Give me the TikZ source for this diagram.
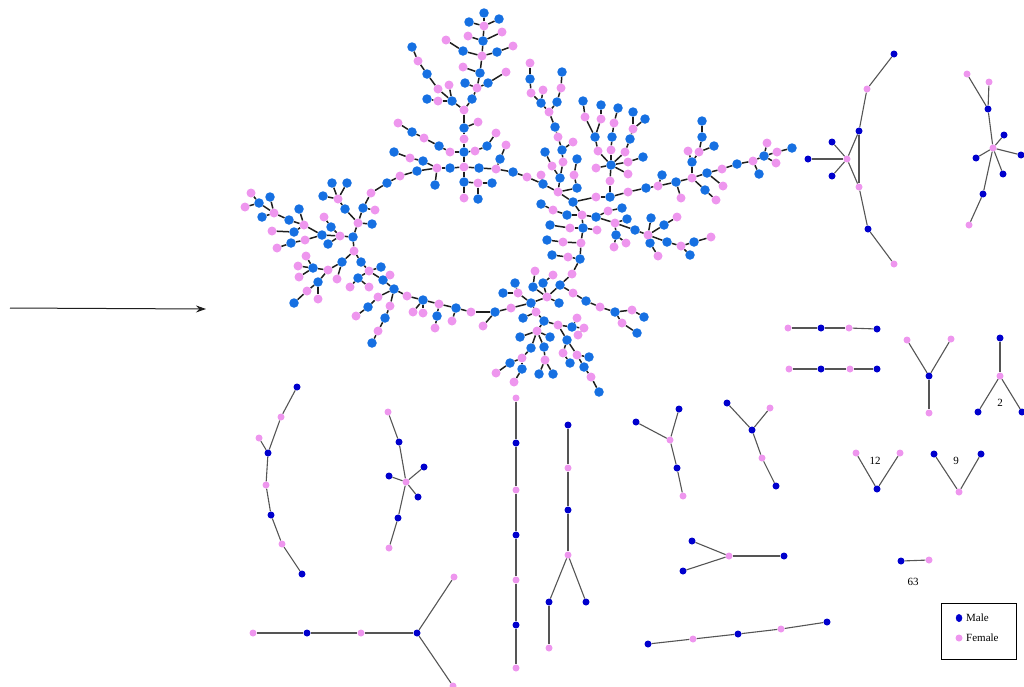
\documentclass[tikz,border=0pt]{standalone}
\usepackage{fontspec}
\setmainfont{Liberation Serif}
\usetikzlibrary{arrows.meta,shapes.geometric}
\pgfdeclarelayer{bg}
\pgfsetlayers{bg,main}
\definecolor{mainblue}{RGB}{22,112,226}
\definecolor{mainpink}{RGB}{238,150,238}
\definecolor{darkblue}{RGB}{0,0,205}
\definecolor{edgedark}{RGB}{30,30,30}
\definecolor{edgegray}{RGB}{85,85,85}
\tikzset{
  mb/.style={circle, fill=mainblue, inner sep=0pt, minimum size=9.5pt},
  mp/.style={circle, fill=mainpink, inner sep=0pt, minimum size=9pt},
  sb/.style={circle, fill=darkblue, inner sep=0pt, minimum size=7pt},
  sp/.style={circle, fill=mainpink, inner sep=0pt, minimum size=7pt},
  me/.style={draw=edgedark, line width=1.5pt},
  se/.style={draw=edgegray, line width=1.1pt},
  lbl/.style={font=\fontsize{11}{12}\selectfont, inner sep=0pt},
  legbox/.style={draw=black, line width=0.8pt, minimum width=75pt, minimum height=56pt, inner sep=0pt}
}
\begin{document}
\begin{tikzpicture}[x=1pt,y=-1pt]
\useasboundingbox (0,0) rectangle (1024,686);
% ---------------- main component: blue nodes
\foreach \nm/\x/\y in {t1/484/13, t2/469/22, t3/499/19, t7/483/41, t9/463/51, t11/497/52, t14/480/73, t16/465/83, t18/488/83, t19/472/99, t21/412/47, t23/427/74, t26/452/101, t27/427/99,
c1/464/128, c4/464/152, c6/439/146, c8/412/132, c11/487/146, c14/450/168, c16/417/171, c18/423/161, c20/394/152, c21/435/185, c22/479/168, c24/500/159, c26/513/172, c28/464/182, c31/478/199, c32/492/183,
l1/387/183, l3/363/208, l6/372/224, l7/353/237, l9/331/227, l11/328/244, l12/322/235, l14/291/243, l17/299/209, l18/294/232, l20/289/220, l22/259/203, l23/270/197, l24/262/217, l27/332/183, l28/347/183, l30/323/196, l31/345/209,
d2/342/262, d4/313/268, d8/318/282, d10/294/303, d13/361/262, d15/381/267, d17/383/280, d18/394/289, d19/358/278, d23/368/307, d26/385/318, d28/372/343, d30/423/300, d32/456/308, d34/495/312, d38/437/316,
e1/531/303, e3/503/293, e4/515/283, e6/533/287, e7/543/283, e10/560/285, e11/559/303, e13/580/259, e15/586/301, e17/615/312, e19/644/317, e21/637/333, e23/523/318, e24/544/321, e26/572/327, e31/520/337, e32/550/337, e33/531/348, e35/510/363, e37/522/369, e39/544/347, e41/539/374, e42/553/374, e43/567/340, e45/570/363, e47/589/357, e48/584/367, e50/599/392, e51/552/255,
m2/530/79, m5/541/103, m6/562/72, m8/557/102, m10/555/127, m13/562/150, m14/545/152, m17/577/159, m19/560/178, m21/543/184, m22/577/188, m24/573/202, m26/583/228, m29/550/225, m31/547/240, m35/541/204, m37/567/215,
s0/611/165, s3/595/137, s5/583/101, s7/612/137, s9/618/108, s11/601/105, s13/630/139, s15/633/112, s16/645/119, s18/643/157, s21/610/197, s24/646/188, s26/662/175, s27/676/182,
r1/596/217, r3/622/208, r5/627/219, r6/616/235, r9/635/230, r11/651/218, r12/664/225, r14/650/243, r16/667/242, r18/694/242, r20/690/255,
f1/692/162, f4/714/146, f5/702/137, f6/702/121, f7/705/190, f9/707/173, f11/737/164, f13/764/156, f15/792/148, f16/759/174}
  \node[mb] (\nm) at (\x,\y) {};
% ---------------- main component: pink nodes
\foreach \nm/\x/\y in {t4/484/26, t5/468/36, t6/502/32, t8/446/40, t10/482/56, t12/513/46, t13/463/67, t15/506/72, t17/477/88, t20/464/110, t22/418/61, t24/438/89, t25/449/85, t28/438/101,
c2/478/122, c3/464/139, c5/450/152, c7/424/138, c9/398/123, c10/475/151, c12/496/133, c13/464/167, c15/437/168, c17/400/176, c19/410/158, c23/496/169, c25/506/145, c27/527/177, c29/464/198, c30/478/183,
l2/371/193, l4/375/210, l5/358/223, l8/340/236, l10/324/217, l13/305/240, l15/277/248, l16/304/225, l19/272/231, l21/274/213, l25/251/193, l26/245/207, l29/338/199,
d1/354/251, d3/328/270, d5/306/256, d6/298/266, d7/299/277, d9/307/291, d11/318/299, d12/337/279, d14/369/271, d16/390/275, d20/369/287, d21/350/287, d22/378/297, d24/356/316, d25/390/306, d27/378/331, d29/407/296, d31/439/304, d33/471/312, d35/511/308, d36/413/312, d37/423/313, d39/435/328, d40/452/321, d41/483/326,
e2/518/293, e5/547/297, e8/535/271, e9/553/275, e12/572/274, e14/573/293, e16/600/307, e18/632/310, e20/622/323, e22/536/312, e25/558/325, e27/577/318, e28/584/328, e29/578/335, e30/537/331, e34/522/358, e36/496/373, e38/514/382, e40/545/360, e44/563/353, e46/577/355, e49/591/377, e52/568/257,
m1/530/63, m3/531/93, m4/543/90, m7/561/88, m9/549/112, m11/558/137, m12/573/142, m15/552/166, m16/563/162, m18/574/175, m20/541/175, m23/558/192, m25/582/215, m27/581/243, m30/570/228, m32/563/242, m34/597/230, m36/553/210,
s1/596/168, s2/598/151, s4/585/117, s6/611/150, s8/614/123, s10/601/119, s12/625/152, s14/633/129, s17/628/162, s19/628/174, s20/610/181, s22/596/197, s23/628/192, s25/658/186, s28/681/198, s29/692/178,
r2/608/211, r4/615/223, r7/614/247, r8/626/243, r10/648/235, r13/677/217, r15/658/256, r17/681/246, r19/711/237,
f2/688/151, f3/699/152, f8/716/200, f10/722/169, f12/753/161, f14/777/152, f17/767/143, f18/776/163, f19/723/186}
  \node[mp] (\nm) at (\x,\y) {};
% ---------------- small components
\foreach \nm/\x/\y in {a1/894/54, a3/859/131, a6/868/229, a8/808/159, a9/832/142, a10/832/176,
b3/988/109, b5/1004/135, b6/976/158, b7/1021/155, b8/1003/174, b9/983/194,
g2/821/328, g4/877/329, h2/821/369, h4/877/369, y3/929/376,
w1/1000/338, w3/978/412, w4/1022/412, v3/877/489, u1/934/454, u2/981/454, p1/901/561,
k1/297/387, k4/268/453, k6/271/515, k8/302/574,
q2/399/442, q4/424/467, q5/389/476, q6/418/497, q7/398/518,
z2/307/633, z4/417/633,
vl2/516/443, vl4/516/535, vl6/516/625,
vt1/568/425, vt3/568/510, vt5/549/602, vt7/586/602,
o1/636/422, o2/679/409, o4/677/468,
x1/727/403, x3/752/430, x5/776/486,
j1/692/541, j3/784/556, j4/683/571,
n1/648/644, n3/738/634, n5/827/622}
  \node[sb] (\nm) at (\x,\y) {};
\foreach \nm/\x/\y in {a2/867/89, a4/847/159, a5/859/187, a7/894/264,
b1/967/74, b2/989/82, b4/993/148, b10/969/225,
g1/788/328, g3/849/328, h1/789/369, h3/850/369,
y1/907/340, y2/951/339, y4/929/413,
w2/1000/376, v1/856/453, v2/900/453, u3/959/492, p2/929/560,
k2/281/417, k3/259/438, k5/266/485, k7/282/544,
q1/388/412, q3/406/482, q8/389/548,
z1/253/633, z3/361/633, z5/454/577, z6/453/686,
vl1/516/398, vl3/516/490, vl5/516/580, vl7/516/668,
vt2/568/468, vt4/568/555, vt6/549/648,
o3/670/440, o5/683/496,
x2/770/408, x4/762/458,
j2/729/556,
n2/693/639, n4/781/629}
  \node[sp] (\nm) at (\x,\y) {};
% ---------------- labels and legend
\node[lbl] (lab2) at (1000,403) {2};
\node[lbl] (lab12) at (875,461) {12};
\node[lbl] (lab9) at (956,461) {9};
\node[lbl] (lab63) at (913,582) {63};
\node[legbox] (legend) at (978.5,631) {};
\node[ellipse, fill=darkblue, inner sep=0pt, minimum width=6.5pt, minimum height=8pt] (legm) at (959,618) {};
\node[lbl, anchor=west] (legmt) at (966,617.5) {Male};
\node[sp] (legf) at (959,638) {};
\node[lbl, anchor=west] (legft) at (966,638) {Female};
% ---------------- arrow
\coordinate (arrS) at (10,308);
\coordinate (arrE) at (206,309);
\draw[-{Stealth[length=10pt,width=7pt]}, line width=1pt, draw=edgedark] (arrS) -- (arrE);
% ---------------- edges
\begin{pgfonlayer}{bg}
\foreach \a/\b in {t4/t1, t4/t2, t4/t3, t4/t7, t7/t5, t7/t6, t7/t10, t10/t9, t9/t8, t10/t11, t11/t12, t10/t14, t14/t13, t14/t17, t17/t16, t17/t18, t18/t15, t17/t19, t19/t20, t21/t22, t22/t23, t23/t24, t24/t26, t25/t26, t27/t28, t28/t26, t26/t20,
t20/c1, c1/c2, c1/c3, c3/c4, c4/c5, c5/c6, c6/c7, c7/c8, c8/c9, c4/c10, c10/c11, c11/c12, c4/c13, c13/c14, c14/c15, c15/c16, c16/c17, c15/c18, c18/c19, c19/c20, c15/c21, c13/c22, c22/c23, c23/c24, c24/c25, c23/c26, c26/c27, c13/c28, c28/c29, c28/c30, c30/c31, c30/c32,
c17/l1, l1/l2, l2/l3, l3/l4, l3/l5, l5/l6, l5/l7, l7/l8, l8/l9, l9/l10, l8/l11, l8/l12, l12/l13, l13/l14, l14/l15, l12/l16, l16/l17, l16/l18, l18/l19, l16/l20, l20/l21, l21/l22, l21/l23, l21/l24, l22/l25, l22/l26, l29/l27, l29/l28, l29/l30, l29/l31, l31/l5,
l7/d1, d1/d2, d2/d3, d3/d4, d4/d5, d4/d6, d4/d7, d3/d8, d8/d9, d9/d10, d8/d11, d2/d12, d1/d13, d13/d14, d14/d15, d14/d17, d17/d16, d17/d18, d14/d19, d19/d20, d19/d21, d18/d22, d22/d23, d23/d24, d18/d25, d25/d26, d26/d27, d27/d28, d18/d29, d29/d30, d30/d31, d31/d32, d32/d33, d33/d34, d34/d35, d30/d36, d30/d37, d31/d38, d38/d39, d32/d40, d34/d41,
d35/e1, e1/e2, e2/e3, e2/e4, e1/e5, e5/e6, e5/e7, e6/e8, e7/e9, e5/e10, e5/e11, e10/e12, e12/e13, e10/e14, e14/e15, e15/e16, e16/e17, e17/e18, e18/e19, e17/e20, e20/e21, e1/e22, e22/e23, e22/e24, e24/e25, e25/e26, e26/e27, e26/e28, e28/e29, e24/e30, e30/e31, e30/e32, e30/e33, e33/e34, e34/e35, e35/e36, e34/e37, e37/e38, e30/e39, e39/e40, e40/e41, e40/e42, e25/e43, e43/e44, e44/e45, e43/e46, e46/e47, e46/e48, e48/e49, e49/e50, e51/e52, e52/e13,
m1/m2, m2/m3, m3/m5, m4/m5, m5/m9, m6/m7, m7/m8, m8/m9, m9/m10, m10/m11, m11/m13, m12/m13, m14/m15, m15/m19, m13/m16, m16/m19, m17/m18, m18/m22, m22/m23, m19/m23, m20/m21, c27/m21, m21/m23, m23/m24, m24/m25, m25/m26, m26/m27, m27/e13, m29/m30, m30/m26, m31/m32, m32/m27, m35/m36, m36/m37, m37/m25, m26/m34,
s0/s1, s0/s2, s2/s3, s3/s4, s4/s5, s3/s10, s10/s11, s0/s6, s6/s7, s7/s8, s8/s9, s0/s12, s12/s13, s13/s14, s14/s15, s14/s16, s0/s17, s17/s18, s0/s19, s0/s20, s20/s21, s21/s22, s22/m24, s21/s23, s23/s24, s24/s25, s25/s26, s25/s27, s27/s28, s27/s29,
m25/r1, r1/r2, r2/r3, r1/r4, r4/r5, r4/r6, r6/r7, r6/r8, r4/r9, r9/r10, r10/r11, r10/r12, r12/r13, r10/r14, r14/r15, r10/r16, r16/r17, r17/r18, r18/r19, r17/r20,
s29/f1, f1/f2, f1/f3, f3/f4, f3/f5, f5/f6, s29/f7, f7/f8, s29/f9, f9/f10, f10/f11, f11/f12, f12/f13, f13/f14, f14/f15, f12/f16, f13/f17, f13/f18, f9/f19}
  \draw[me] (\a) -- (\b);
\foreach \a/\b in {a1/a2, a2/a3, a3/a5, a5/a6, a6/a7, a4/a3, a4/a5, a4/a8, a4/a9, a4/a10,
b1/b3, b2/b3, b3/b4, b4/b5, b4/b6, b4/b7, b4/b8, b4/b9, b9/b10,
g1/g2, g2/g3, g3/g4, h1/h2, h2/h3, h3/h4,
y1/y3, y2/y3, y3/y4, w1/w2, w2/w3, w2/w4, v1/v3, v2/v3, u1/u3, u2/u3, p1/p2,
k1/k2, k2/k4, k3/k4, k4/k5, k5/k6, k6/k7, k7/k8,
q1/q2, q2/q3, q3/q4, q3/q5, q3/q6, q3/q7, q7/q8,
z1/z2, z2/z3, z3/z4, z4/z5, z4/z6,
vl1/vl2, vl2/vl3, vl3/vl4, vl4/vl5, vl5/vl6, vl6/vl7,
vt1/vt2, vt2/vt3, vt3/vt4, vt4/vt5, vt5/vt6, vt4/vt7,
o1/o3, o2/o3, o3/o4, o4/o5,
x1/x3, x2/x3, x3/x4, x4/x5,
j1/j2, j2/j3, j2/j4,
n1/n2, n2/n3, n3/n4, n4/n5}
  \draw[se] (\a) -- (\b);
\end{pgfonlayer}
\end{tikzpicture}
\end{document}
